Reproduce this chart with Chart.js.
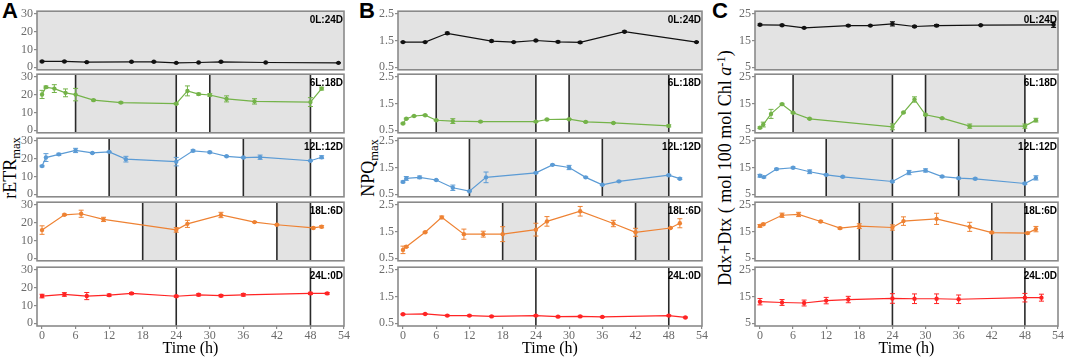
<!DOCTYPE html>
<html>
<head>
<meta charset="utf-8">
<script src="https://cdn.jsdelivr.net/npm/chart.js@4.4.0/dist/chart.umd.min.js"></script>
<style>
    body { margin: 0; width: 1065px; height: 359px; background: #fff; position: relative; overflow: hidden; font-family: "Liberation Serif", serif; }
    canvas { position: absolute; }
    .letter { position: absolute; font: bold 22px "Liberation Sans", Arial, sans-serif; line-height: 22px; }
    .ytitle { position: absolute; transform: translate(-50%, -50%) rotate(-90deg); white-space: nowrap; font-size: 18px; line-height: 20px; color: #000; }
    .ytitle sub { font-size: 70%; vertical-align: -0.3em; line-height: 0; }
    .ytitle sup { font-size: 70%; vertical-align: 0.5em; line-height: 0; }
</style>
</head>
<body>
<div class="letter" style="left:2px;top:0px">A</div>
<div class="letter" style="left:359px;top:0px">B</div>
<div class="letter" style="left:712px;top:0px">C</div>
<div class="ytitle" style="left:10px;top:168px">rETR<sub>max</sub></div>
<div class="ytitle" style="left:368px;top:168px">NPQ<sub>max</sub></div>
<div class="ytitle" style="left:725px;top:168px">Ddx+Dtx ( mol 100 mol Chl <i>a</i><sup>-1</sup>)</div>

<script>
// time points (h) and values per photoperiod
const etr0Time = [0, 4, 8, 16, 20, 24, 28, 32, 40, 53];
const etr0 = [3.2, 3.2, 2.8, 3.0, 3.0, 2.4, 2.6, 3.0, 2.6, 2.4];
const etr0Err = [0.3, 0.3, 0.2, 0.3, 0.3, 0.2, 0.2, 0.3, 0.2, 0.2];
const etr6Time = [0, 0.7, 2.2, 4.2, 6, 9.2, 14.1, 24, 26, 28, 30, 33, 38, 48, 50];
const etr6 = [20.1, 24.2, 23.4, 21.0, 20.0, 16.9, 15.5, 14.9, 22.1, 20.3, 19.8, 17.6, 16.2, 15.8, 23.4];
const etr6Err = [2.3, 0.6, 2.2, 2.2, 3.5, 0.4, 0.4, 0.4, 2.8, 0.5, 0.7, 1.7, 1.5, 2.5, 0.8];
const etr12Time = [0, 0.7, 3, 6, 9, 12, 15, 24, 27, 30, 33, 36, 39, 48, 50];
const etr12 = [15.8, 20.6, 22.4, 24.6, 23.2, 23.8, 19.7, 18.3, 24.4, 23.6, 21.3, 20.6, 20.8, 18.8, 20.8];
const etr12Err = [0.4, 2.2, 0.6, 1.2, 0.3, 0.3, 1.6, 2.4, 0.5, 0.5, 0.3, 0.3, 1.2, 0.3, 0.8];
const etr18Time = [0, 4, 7, 11, 24, 26, 32, 38, 42, 48.5, 50];
const etr18 = [15.8, 24.4, 25.0, 21.8, 15.9, 19.3, 24.3, 20.3, 18.8, 17.0, 17.7];
const etr18Err = [2.4, 0.4, 2.0, 1.2, 1.3, 2.0, 1.5, 0.3, 0.3, 0.5, 0.6];
const etr24Time = [0, 4, 8, 12, 16, 24, 28, 32, 36, 48, 51];
const etr24 = [15.3, 16.2, 15.3, 15.8, 16.8, 15.2, 16.0, 15.5, 16.0, 16.8, 16.8];
const etr24Err = [1.0, 1.0, 2.0, 0.6, 0.5, 0.5, 0.6, 0.6, 0.7, 0.6, 0.5];

const npq0Time = [0, 4, 8, 16, 20, 24, 28, 32, 40, 53];
const npq0 = [1.44, 1.44, 1.77, 1.48, 1.44, 1.5, 1.45, 1.43, 1.83, 1.44];
const npq0Err = [0.02, 0.02, 0.04, 0.03, 0.02, 0.02, 0.03, 0.03, 0.03, 0.02];
const npq6Time = [0, 0.6, 2, 4, 6, 9, 14, 24, 26, 30, 33, 38, 48];
const npq6 = [0.75, 0.93, 1.03, 1.06, 0.87, 0.84, 0.82, 0.82, 0.90, 0.91, 0.81, 0.77, 0.66];
const npq6Err = [0.02, 0.02, 0.02, 0.02, 0.02, 0.09, 0.02, 0.02, 0.02, 0.02, 0.02, 0.02, 0.04];
const npq12Time = [0, 0.6, 3, 6, 9, 12, 15, 24, 27, 30, 33, 36, 39, 48, 50];
const npq12 = [0.96, 1.09, 1.13, 1.03, 0.74, 0.61, 1.13, 1.30, 1.60, 1.50, 1.13, 0.85, 0.98, 1.21, 1.08];
const npq12Err = [0.03, 0.07, 0.05, 0.02, 0.1, 0.02, 0.2, 0.02, 0.02, 0.08, 0.02, 0.02, 0.02, 0.03, 0.03];
const npq18Time = [0, 0.6, 4, 7, 11, 14.5, 18, 24, 26, 32, 38, 42, 48.3, 50];
const npq18 = [0.81, 0.93, 1.47, 2.03, 1.40, 1.40, 1.40, 1.57, 1.88, 2.26, 1.80, 1.47, 1.63, 1.81];
const npq18Err = [0.14, 0.03, 0.02, 0.05, 0.19, 0.11, 0.28, 0.24, 0.18, 0.18, 0.12, 0.15, 0.02, 0.17];
const npq24Time = [0, 4, 8, 12, 16, 24, 28, 32, 36, 48, 51];
const npq24 = [0.84, 0.85, 0.79, 0.79, 0.76, 0.79, 0.75, 0.76, 0.74, 0.79, 0.72];
const npq24Err = [0.02, 0.02, 0.02, 0.02, 0.02, 0.02, 0.02, 0.02, 0.02, 0.02, 0.02];

const ddx0Time = [0, 4, 8, 16, 20, 24, 28, 32, 40, 53.2];
const ddx0 = [20.9, 20.75, 19.75, 20.6, 20.6, 21.25, 20.25, 20.6, 20.75, 20.9];
const ddx0Err = [0.3, 0.3, 0.2, 0.3, 0.2, 0.8, 0.3, 0.4, 0.2, 1.0];
const ddx6Time = [0, 0.6, 2, 4, 6, 9, 24, 26, 28, 30, 33, 38, 48, 50];
const ddx6 = [5.9, 7.1, 11.1, 14.75, 11.5, 9.25, 6.25, 11.6, 16.5, 10.75, 9.5, 6.5, 6.5, 8.75];
const ddx6Err = [0.3, 0.9, 1.7, 0.3, 0.2, 0.2, 1.1, 0.2, 1.0, 0.3, 0.2, 0.8, 0.8, 0.7];
const ddx12Time = [0, 0.7, 3, 6, 9, 12, 15, 24, 27, 30, 33, 36, 39, 48, 50];
const ddx12 = [11.9, 11.4, 14.4, 14.9, 13.4, 12.25, 11.5, 9.75, 13.1, 13.9, 11.6, 11.0, 10.75, 9.0, 11.1];
const ddx12Err = [0.5, 0.3, 0.3, 0.3, 0.7, 0.3, 0.3, 0.3, 0.8, 0.6, 0.3, 0.3, 0.3, 0.3, 0.8];
const ddx18Time = [0, 0.6, 4, 7, 11, 14.5, 18, 24, 26, 32, 38, 42, 48.5, 50];
const ddx18 = [17.1, 17.75, 21.1, 21.4, 18.75, 16.25, 17.0, 16.5, 18.9, 19.75, 16.75, 14.6, 14.4, 15.9];
const ddx18Err = [0.5, 0.3, 0.8, 0.8, 0.3, 0.3, 0.9, 1.0, 1.6, 2.1, 1.7, 0.3, 0.3, 1.0];
const ddx24Time = [0, 4, 8, 12, 16, 24, 28, 32, 36, 48, 51];
const ddx24 = [13.1, 12.8, 12.6, 13.5, 13.9, 14.3, 14.2, 14.2, 14.0, 14.6, 14.6];
const ddx24Err = [1.2, 1.1, 1.1, 1.2, 1.2, 1.8, 1.8, 1.8, 1.6, 1.6, 1.3];

const photoLabels = ['0L:24D', '6L:18D', '12L:12D', '18L:6D', '24L:0D'];
const rowColors = ['#111111', '#74b349', '#5b9bd5', '#ee8233', '#ff2424'];
const darkPeriods = [[[-5, 60]], [[6, 24], [30, 48]], [[12, 24], [36, 48]], [[18, 24], [42, 48]], []];
const darkLines = [[], [6, 24, 30, 48], [12, 24, 36, 48], [18, 24, 42, 48], [24, 48]];
const xTicks = [0, 6, 12, 18, 24, 30, 36, 42, 48, 54];
const etrTicks = [0, 10, 20, 30];
const npqTicks = [0.5, 1.5, 2.5];
const ddxTicks = [5, 10, 15, 20, 25];


const columns = [
    { left: 37, right: 344, min: -1.5, max: 31.5, ticks: etrTicks, fmt: v => String(v),
      times: [etr0Time, etr6Time, etr12Time, etr18Time, etr24Time],
      vals: [etr0, etr6, etr12, etr18, etr24],
      errs: [etr0Err, etr6Err, etr12Err, etr18Err, etr24Err] },
    { left: 398, right: 702, min: 0.4, max: 2.6, ticks: npqTicks, fmt: v => v.toFixed(1),
      times: [npq0Time, npq6Time, npq12Time, npq18Time, npq24Time],
      vals: [npq0, npq6, npq12, npq18, npq24],
      errs: [npq0Err, npq6Err, npq12Err, npq18Err, npq24Err] },
    { left: 755, right: 1058, min: 4, max: 26, ticks: ddxTicks, fmt: v => String(v),
      times: [ddx0Time, ddx6Time, ddx12Time, ddx18Time, ddx24Time],
      vals: [ddx0, ddx6, ddx12, ddx18, ddx24],
      errs: [ddx0Err, ddx6Err, ddx12Err, ddx18Err, ddx24Err] }
];
const rowTops = [11, 74, 138, 202, 267];
const rowH = 59;
const YW = 34, PT = 8, PB = 8, PR = 10, XH = 33;


function panelPlugin(row, times, vals, errs) {
    return {
        id: 'panel',
        beforeDatasetsDraw(chart) {
            const { ctx, chartArea: a, scales: { x, y } } = chart;
            ctx.save();
            ctx.beginPath();
            ctx.rect(a.left, a.top, a.width, a.height);
            ctx.clip();
            ctx.fillStyle = '#e3e3e3';
            darkPeriods[row].forEach(p => {
                const x1 = x.getPixelForValue(p[0]);
                const x2 = x.getPixelForValue(p[1]);
                ctx.fillRect(x1, a.top, x2 - x1, a.height);
            });
            ctx.strokeStyle = '#2a2a2a';
            ctx.lineWidth = 1.6;
            darkLines[row].forEach(v => {
                const px = x.getPixelForValue(v);
                ctx.beginPath();
                ctx.moveTo(px, a.top);
                ctx.lineTo(px, a.bottom);
                ctx.stroke();
            });
            // error bars
            ctx.strokeStyle = rowColors[row];
            ctx.lineWidth = 1;
            times.forEach((t, i) => {
                const px = x.getPixelForValue(t);
                const lo = y.getPixelForValue(vals[i] - errs[i]);
                const hi = y.getPixelForValue(vals[i] + errs[i]);
                ctx.beginPath();
                ctx.moveTo(px, lo); ctx.lineTo(px, hi);
                ctx.moveTo(px - 2.5, lo); ctx.lineTo(px + 2.5, lo);
                ctx.moveTo(px - 2.5, hi); ctx.lineTo(px + 2.5, hi);
                ctx.stroke();
            });
            ctx.restore();
        },
        afterDraw(chart) {
            const { ctx, chartArea: a } = chart;
            ctx.save();
            ctx.strokeStyle = '#8a8a8a';
            ctx.lineWidth = 1.6;
            ctx.strokeRect(a.left, a.top, a.width, a.height);
            ctx.fillStyle = '#000';
            ctx.font = 'bold 10px "Liberation Sans", Arial, sans-serif';
            ctx.textAlign = 'right';
            ctx.textBaseline = 'top';
            ctx.fillText(photoLabels[row], a.right - 1, a.top + 4);
            ctx.restore();
        }
    };
}


function renderPanel(col, row) {
    const c = columns[col];
    const last = row === 4;
    const canvas = document.createElement('canvas');
    const w = (c.right - c.left) + YW + PR;
    const h = rowH + PT + (last ? XH : PB);
    canvas.width = w;
    canvas.height = h;
    canvas.style.left = (c.left - YW) + 'px';
    canvas.style.top = (rowTops[row] - PT) + 'px';
    document.body.appendChild(canvas);

    const times = c.times[row], vals = c.vals[row], errs = c.errs[row];
    const xScale = {
        type: 'linear', min: -0.9, max: 54, display: last,
        afterBuildTicks: s => { s.ticks = xTicks.map(v => ({ value: v })); },
        grid: { drawOnChartArea: false, drawTicks: true, tickLength: 3, color: '#8a8a8a', lineWidth: 1.2 },
        border: { display: false },
        ticks: { autoSkip: false, maxRotation: 0, padding: 0, color: '#6b6b6b',
                 font: { family: '"Liberation Serif", serif', size: 12 } },
        title: { display: true, text: 'Time (h)', color: '#000', padding: { top: 0, bottom: 1 },
                 font: { family: '"Liberation Serif", serif', size: 16 } }
    };
    if (last) xScale.afterFit = s => { s.height = XH; };

    new Chart(canvas, {
        type: 'line',
        data: {
            datasets: [{
                data: times.map((t, i) => ({ x: t, y: vals[i] })),
                borderColor: rowColors[row],
                backgroundColor: rowColors[row],
                borderWidth: 1.2,
                pointRadius: 2.2,
                pointBorderWidth: 0,
                tension: 0
            }]
        },
        options: {
            animation: false,
            responsive: false,
            events: [],
            layout: { padding: { top: PT, right: PR, bottom: last ? 0 : PB, left: 0 } },
            plugins: { legend: { display: false }, tooltip: { enabled: false } },
            scales: {
                x: xScale,
                y: {
                    min: c.min, max: c.max,
                    afterBuildTicks: s => { s.ticks = c.ticks.map(v => ({ value: v })); },
                    afterFit: s => { s.width = YW; },
                    grid: { drawOnChartArea: false, drawTicks: true, tickLength: 3, color: '#8a8a8a', lineWidth: 1.2 },
                    border: { display: false },
                    ticks: { padding: 1, color: '#6b6b6b', callback: v => c.fmt(v),
                             font: { family: '"Liberation Serif", serif', size: 12 } }
                }
            }
        },
        plugins: [panelPlugin(row, times, vals, errs)]
    });
}


for (let col = 0; col < 3; col++) {
    for (let row = 0; row < 5; row++) {
        renderPanel(col, row);
    }
}
</script>
</body>
</html>
